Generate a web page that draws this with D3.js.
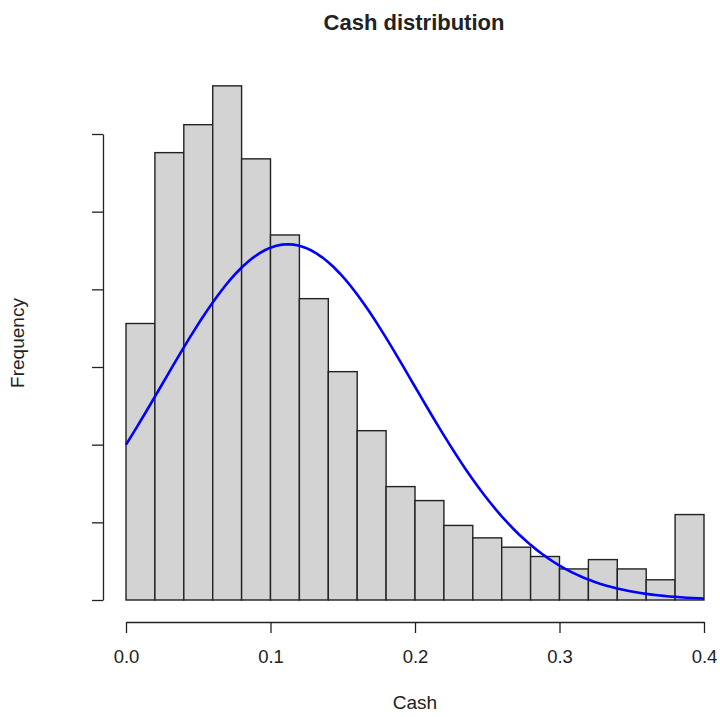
<!DOCTYPE html>
<html>
<head>
<meta charset="utf-8">
<script src="https://cdn.jsdelivr.net/npm/d3@7"></script>
<style>
  html, body { margin: 0; padding: 0; background: #fff; }
  svg { display: block; }
  text { font-family: "Liberation Sans", Arial, sans-serif; fill: #222; }
</style>
</head>
<body>
<svg id="chart" width="720" height="717"></svg>
<script>
// Histogram bins of cash ratio (width 0.02) and their counts
const binStarts = [0.00, 0.02, 0.04, 0.06, 0.08, 0.10, 0.12, 0.14, 0.16, 0.18,
                   0.20, 0.22, 0.24, 0.26, 0.28, 0.30, 0.32, 0.34, 0.36, 0.38];
const binWidth = 0.02;
const counts = [178, 288, 306, 331, 284, 235, 194, 147, 109, 73,
                64, 48, 40, 34, 28, 20, 26, 20, 13, 55];

// Fitted normal curve parameters (mean, sd, height at the mean in counts)
const fitMean = 0.112;
const fitSd = 0.087;
const fitPeak = 229;

// Axis ticks
const xTicks = [0.0, 0.1, 0.2, 0.3, 0.4];
const yTicks = [0, 50, 100, 150, 200, 250, 300];

const svg = d3.select("#chart");

const x = d3.scaleLinear().domain([0, 0.4]).range([126, 704]);
const y = d3.scaleLinear().domain([0, 300]).range([600, 134]);

// Bars
svg.append("g")
  .selectAll("rect")
  .data(binStarts.map((s, i) => ({ s, c: counts[i] })))
  .join("rect")
  .attr("x", d => x(d.s))
  .attr("y", d => y(d.c))
  .attr("width", d => x(d.s + binWidth) - x(d.s))
  .attr("height", d => y(0) - y(d.c))
  .attr("fill", "#d3d3d3")
  .attr("stroke", "#222")
  .attr("stroke-width", 1.4);

// Normal density overlay
const curveXs = d3.range(0, 101).map(i => 0.4 * i / 100);
const line = d3.line()
  .x(d => x(d))
  .y(d => y(fitPeak * Math.exp(-0.5 * Math.pow((d - fitMean) / fitSd, 2))));
svg.append("path")
  .datum(curveXs)
  .attr("d", line)
  .attr("fill", "none")
  .attr("stroke", "#0000ff")
  .attr("stroke-width", 2.6);

// X axis
const xAxis = svg.append("g")
  .attr("transform", "translate(0,622)")
  .call(d3.axisBottom(x).tickValues(xTicks).tickFormat(d3.format(".1f"))
    .tickSize(11).tickSizeOuter(0).tickPadding(17));
xAxis.select(".domain").attr("stroke", "#222").attr("stroke-width", 1.3);
xAxis.selectAll(".tick line").attr("stroke", "#222").attr("stroke-width", 1.3);
xAxis.selectAll(".tick text")
  .attr("font-size", 18.5)
  .attr("font-family", "Liberation Sans, Arial, sans-serif")
  .attr("fill", "#222");

// Y axis (tick marks only)
const yAxis = svg.append("g")
  .attr("transform", "translate(103,0)")
  .call(d3.axisLeft(y).tickValues(yTicks).tickFormat(() => "")
    .tickSize(11).tickSizeOuter(0));
yAxis.select(".domain").attr("stroke", "#222").attr("stroke-width", 1.3);
yAxis.selectAll(".tick line").attr("stroke", "#222").attr("stroke-width", 1.3);

// Title and axis labels
svg.append("text")
  .attr("x", 414).attr("y", 29.5)
  .attr("text-anchor", "middle")
  .attr("font-size", 22).attr("font-weight", "bold")
  .attr("fill", "#000")
  .text("Cash distribution");

svg.append("text")
  .attr("x", 415).attr("y", 709)
  .attr("text-anchor", "middle")
  .attr("font-size", 19)
  .text("Cash");

svg.append("text")
  .attr("transform", "translate(23.5,343) rotate(-90)")
  .attr("text-anchor", "middle")
  .attr("font-size", 19)
  .text("Frequency");
</script>
</body>
</html>
